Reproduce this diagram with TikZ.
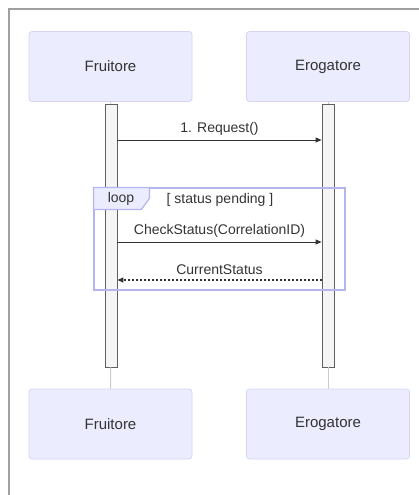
\documentclass[tikz,border=0pt]{standalone}
\usepackage{fontspec}
\setmainfont{Liberation Sans}
\usetikzlibrary{arrows.meta}
\definecolor{actfill}{HTML}{ECECFF}
\definecolor{actline}{HTML}{D4D4F4}
\definecolor{loopline}{HTML}{B4B4EE}
\definecolor{txt}{HTML}{333333}
\begin{document}
\begin{tikzpicture}[x=1pt,y=-1pt,
        actor/.style={draw=actline,fill=actfill,rounded corners=3pt,line width=0.8pt,
            minimum width=163pt,minimum height=70pt,text=txt,font=\fontsize{15}{18}\selectfont},
        bar/.style={draw=gray!75!black,fill=gray!8,line width=0.8pt,inner sep=0pt,
            minimum width=12pt,minimum height=263pt},
        life/.style={draw=gray!40,line width=1pt},
        msg/.style={draw=txt,line width=1pt,-{Triangle[length=6pt,width=5pt]}},
        reply/.style={msg,dash pattern=on 2pt off 2pt,line width=1.2pt},
        lbl/.style={text=txt,font=\fontsize{14}{16}\selectfont}]
        \useasboundingbox (0,0) rectangle (419,495);
        \draw[gray!75,line width=1.5pt] (419,9) -- (9,9) -- (9,495);
        % actors
        \node[actor] (FT) at (110.5,66.5) {Fruitore};
        \node[actor] (ET) at (328,66.5) {Erogatore};
        \node[actor] (FB) at (110.5,424) {Fruitore};
        \node[actor] (EB) at (328,424) {Erogatore};
        % activations
        \node[bar] (FA) at (111,235.5) {};
        \node[bar] (EA) at (328,235.5) {};
        \draw[life] (FT) -- (FA);
        \draw[life] (ET) -- (EA);
        \draw[life] (FA) -- (FB);
        \draw[life] (EA) -- (EB);
        % loop frame
        \node[draw=loopline,line width=1.2pt,minimum width=251pt,minimum height=102pt,inner sep=0pt] (L) at (219.5,239) {};
        \draw[draw=loopline,fill=actfill,line width=1.2pt] (L.north west) -- ++(56,0) -- ++(0,11) -- ++(-8,11) -- ++(-48,0) -- cycle;
        \node[lbl] (LT) at (121,199) {loop};
        \node[lbl] (LC) at (220,200) {[ status pending ]};
        % messages
        \coordinate (m1) at (0,140);
        \coordinate (m2) at (0,242);
        \coordinate (m3) at (0,280);
        \draw[msg] (FA.east |- m1) -- node[lbl,above=1pt] {1. Request()} (EA.west |- m1);
        \draw[msg] (FA.east |- m2) -- node[lbl,above=1pt] {CheckStatus(CorrelationID)} (EA.west |- m2);
        \draw[reply] (EA.west |- m3) -- node[lbl,above=1pt] {CurrentStatus} (FA.east |- m3);
    \end{tikzpicture}
\end{document}
